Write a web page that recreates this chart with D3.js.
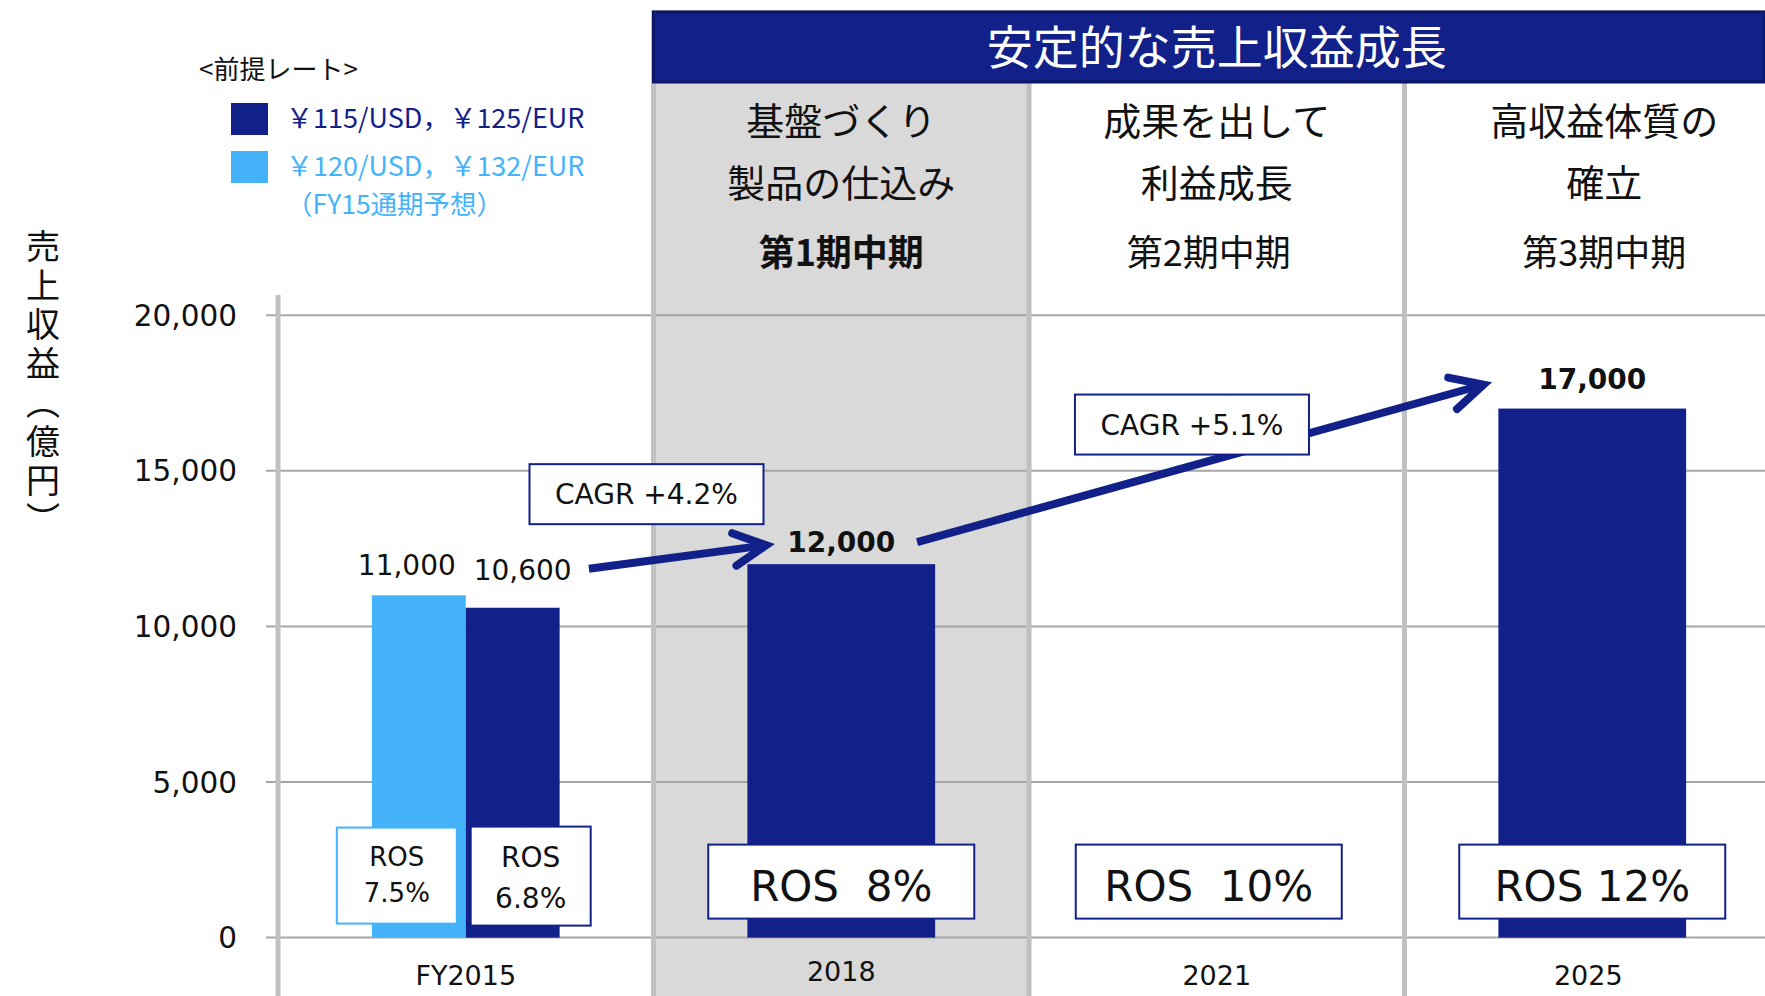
<!DOCTYPE html>
<html><head><meta charset="utf-8">
<script src="https://cdn.jsdelivr.net/npm/d3@7"></script>
<style>
html,body{margin:0;padding:0;background:#fff;}
svg{display:block;}
</style></head>
<body>
<svg id="chart" width="1765" height="996"></svg>
<script>
// ---- data ----
const categories = ["FY2015", "2018", "2021", "2025"];
const planRevenue = [10600, 12000, null, 17000];          // ¥115/USD, ¥125/EUR
const forecastRevenue = [11000, null, null, null];         // ¥120/USD, ¥132/EUR (FY15通期予想)
const planRos = ["6.8%", "8%", "10%", "12%"];
const forecastRos = ["7.5%", null, null, null];
const cagrLabels = ["CAGR +4.2%", "CAGR +5.1%"];
const yTicks = [0, 5000, 10000, 15000, 20000];
const phaseTitles = [["基盤づくり", "製品の仕込み"], ["成果を出して", "利益成長"], ["高収益体質の", "確立"]];
const phaseNames = ["第1期中期", "第2期中期", "第3期中期"];
const bannerTitle = "安定的な売上収益成長";
const legendTitle = "<前提レート>";
const legendLabels = ["￥115/USD，￥125/EUR", "￥120/USD，￥132/EUR"];
const legendNote = "（FY15通期予想）";
const yAxisTitle = "売上収益（億円）";

// ---- styles ----
const NAVY = "#12218a", LIGHT = "#45b3f9", GRID = "#a6a6a6", SEP = "#c0c0c0", SHADE = "#d9d9d9";
const LATIN = "'DejaVu Sans', 'Noto Sans CJK JP', sans-serif";
const CJK = "'Noto Sans CJK JP', sans-serif";

const svg = d3.select("#chart");
const x = d3.scaleBand().domain(categories).range([278, 1780]).padding(0);
const y = d3.scaleLinear().domain([0, 20000]).range([937.6, 315.2]);
const step = x.step();
const cx = c => x(c) + step / 2;

// shaded 2018 column
svg.append("rect").attr("x", x("2018")).attr("y", 82).attr("width", step).attr("height", 996 - 82).attr("fill", SHADE);

// gridlines + ticks
svg.append("g").selectAll("line").data(yTicks).join("line")
  .attr("x1", 266).attr("x2", 1765).attr("y1", d => y(d)).attr("y2", d => y(d))
  .attr("stroke", GRID).attr("stroke-width", 2);
svg.append("g").selectAll("text").data(yTicks).join("text")
  .attr("x", 237).attr("y", d => y(d)).attr("dy", "0.36em").attr("text-anchor", "end")
  .attr("font-family", LATIN).attr("font-size", 29.5).attr("fill", "#111")
  .text(d => d3.format(",")(d));

// separators
svg.append("g").selectAll("line").data(categories.slice(1)).join("line")
  .attr("x1", d => x(d)).attr("x2", d => x(d)).attr("y1", (d, i) => i === 0 ? 10 : 82).attr("y2", 996)
  .attr("stroke", SEP).attr("stroke-width", 5);
// y axis line
svg.append("line").attr("x1", 278).attr("x2", 278).attr("y1", 295).attr("y2", 996).attr("stroke", SEP).attr("stroke-width", 5);

// banner
svg.append("rect").attr("x", x("2018") - 2).attr("y", 10).attr("width", 1765 - x("2018") + 4).attr("height", 73)
  .attr("fill", "#c8c8c8");
svg.append("rect").attr("x", x("2018")).attr("y", 12).attr("width", 1765 - x("2018")).attr("height", 70)
  .attr("fill", NAVY).attr("stroke", "#0b1768").attr("stroke-width", 3);
svg.append("text").attr("x", cx("2021")).attr("y", 47).attr("dy", "0.36em").attr("text-anchor", "middle")
  .attr("font-family", CJK).attr("font-size", 46).attr("fill", "#fff").text(bannerTitle);

// phase headers
const phaseCats = categories.slice(1);
phaseCats.forEach((c, i) => {
  const g = svg.append("g").attr("font-family", CJK).attr("fill", "#111").attr("text-anchor", "middle");
  const hx = cx(c) + (i === 2 ? 12 : 0);
  phaseTitles[i].forEach((t, j) => {
    g.append("text").attr("x", hx).attr("y", 121 + j * 62).attr("dy", "0.36em").attr("font-size", 38).text(t);
  });
  g.append("text").attr("x", hx - (i === 1 ? 8 : 0)).attr("y", 253).attr("dy", "0.36em").attr("font-size", 36)
    .attr("font-weight", i === 0 ? 700 : 400).text(phaseNames[i]);
});

// bars
const bw = step * 0.5;
const barsG = svg.append("g");
categories.forEach((c, i) => {
  const f = forecastRevenue[i], p = planRevenue[i];
  if (f != null && p != null) {
    const sub = d3.scaleBand().domain(["forecast", "plan"]).range([x(c) + step / 4, x(c) + step / 4 + bw]);
    barsG.append("rect").attr("x", sub("forecast")).attr("y", y(f)).attr("width", sub.bandwidth()).attr("height", y(0) - y(f)).attr("fill", LIGHT);
    barsG.append("rect").attr("x", sub("plan")).attr("y", y(p)).attr("width", sub.bandwidth()).attr("height", y(0) - y(p)).attr("fill", NAVY);
    svg.append("text").attr("x", sub("forecast") + sub.bandwidth() / 2 - 12).attr("y", y(f) - 20)
      .attr("text-anchor", "middle").attr("font-family", LATIN).attr("font-size", 28).attr("fill", "#111").text(d3.format(",")(f));
    svg.append("text").attr("x", sub("plan") + sub.bandwidth() / 2 + 10).attr("y", y(p) - 28)
      .attr("text-anchor", "middle").attr("font-family", LATIN).attr("font-size", 28).attr("fill", "#111").text(d3.format(",")(p));
    // small ROS boxes
    [["forecast", forecastRos[i], LIGHT, 26, -22], ["plan", planRos[i], NAVY, 28, 18]].forEach(([k, r, col, fs, off]) => {
      const bxc = sub(k) + sub.bandwidth() / 2 + off;
      svg.append("rect").attr("x", bxc - 60).attr("y", y(0) - 111 + (k === "plan" ? 0 : 1)).attr("width", 120).attr("height", k === "plan" ? 99 : 96)
        .attr("fill", "#fff").attr("stroke", col).attr("stroke-width", 2);
      svg.append("text").attr("x", bxc).attr("y", y(0) - 81).attr("dy", "0.36em").attr("text-anchor", "middle")
        .attr("font-family", LATIN).attr("font-size", fs).attr("fill", "#111").text("ROS");
      svg.append("text").attr("x", bxc).attr("y", y(0) - (k === "plan" ? 40 : 45)).attr("dy", "0.36em").attr("text-anchor", "middle")
        .attr("font-family", LATIN).attr("font-size", fs).attr("fill", "#111").text(r);
    });
  } else if (p != null) {
    barsG.append("rect").attr("x", x(c) + step / 4).attr("y", y(p)).attr("width", bw).attr("height", y(0) - y(p)).attr("fill", NAVY);
    svg.append("text").attr("x", cx(c)).attr("y", y(p) - (c === "2018" ? 12 : 20))
      .attr("text-anchor", "middle").attr("font-family", LATIN).attr("font-size", 28).attr("font-weight", 700).attr("fill", "#111")
      .text(d3.format(",")(p));
  }
  if (!(f != null && p != null)) {
    const bxc = cx(c) + (c === "2021" ? -8 : 0);
    svg.append("rect").attr("x", bxc - 133).attr("y", y(0) - 93).attr("width", 266).attr("height", 74)
      .attr("fill", "#fff").attr("stroke", NAVY).attr("stroke-width", 2);
    svg.append("text").attr("x", bxc).attr("y", y(0) - 52).attr("dy", "0.36em").attr("text-anchor", "middle")
      .attr("font-family", LATIN).attr("font-size", 42).attr("fill", "#111").style("white-space", "pre")
      .text(c === "2025" ? "ROS " + planRos[i] : "ROS  " + planRos[i]);
  }
  // category labels
  svg.append("text").attr("x", cx(c) - (c === "2025" ? 4 : 0)).attr("y", c === "2018" ? 981 : 985).attr("text-anchor", "middle")
    .attr("font-family", LATIN).attr("font-size", 27).attr("fill", "#111").text(c);
});

// arrows
function arrow(x1, y1, x2, y2) {
  const a = Math.atan2(y2 - y1, x2 - x1), L = 36, ang = 27 * Math.PI / 180;
  const tx = x2 - Math.cos(a) * 8, ty = y2 - Math.sin(a) * 8;
  const g = svg.append("g").attr("stroke", NAVY).attr("stroke-width", 8).attr("fill", "none");
  g.append("line").attr("x1", x1).attr("y1", y1).attr("x2", tx - Math.cos(a) * 3).attr("y2", ty - Math.sin(a) * 3);
  g.append("path").attr("stroke-linejoin", "miter").attr("stroke-linecap", "round")
    .attr("d", d3.line()([[tx - L * Math.cos(a - ang), ty - L * Math.sin(a - ang)], [tx, ty], [tx - L * Math.cos(a + ang), ty - L * Math.sin(a + ang)]]));
}
arrow(x("FY2015") + 0.828 * step, y(planRevenue[0]) - 39, x("2018") + 0.321 * step, y(planRevenue[1]) - 20);
arrow(x("2018") + 0.702 * step, y(planRevenue[1]) - 22, x("2025") + 0.231 * step, y(planRevenue[3]) - 26);

// CAGR boxes
const cagrPos = [[x("2018") - 7, y(planRevenue[1]) - 70], [x("2021") + 0.434 * step, y(planRevenue[3]) + 16]];
cagrLabels.forEach((t, i) => {
  const [bx, by] = cagrPos[i];
  svg.append("rect").attr("x", bx - 117).attr("y", by - 30).attr("width", 234).attr("height", 60)
    .attr("fill", "#fff").attr("stroke", NAVY).attr("stroke-width", 2);
  svg.append("text").attr("x", bx).attr("y", by).attr("dy", "0.36em").attr("text-anchor", "middle")
    .attr("font-family", LATIN).attr("font-size", 28).attr("fill", "#111").text(t);
});

// legend
svg.append("text").attr("x", 199).attr("y", 70).attr("dy", "0.36em").attr("font-family", CJK).attr("font-size", 26).attr("fill", "#111").text(legendTitle);
[NAVY, LIGHT].forEach((col, i) => {
  svg.append("rect").attr("x", 231).attr("y", 103 + i * 48).attr("width", 37).attr("height", 32).attr("fill", col);
  svg.append("text").attr("x", 286).attr("y", 118 + i * 48).attr("dy", "0.36em").attr("font-family", CJK).attr("font-size", 27)
    .attr("fill", col).text(legendLabels[i]);
});
svg.append("text").attr("x", 286).attr("y", 204).attr("dy", "0.36em").attr("font-family", CJK).attr("font-size", 26.5)
  .attr("fill", LIGHT).text(legendNote);

// y axis title (vertical)
svg.append("text").attr("x", 43).attr("y", 229).attr("font-family", CJK).attr("font-size", 34).attr("fill", "#111")
  .style("writing-mode", "vertical-rl").style("letter-spacing", "5px").text(yAxisTitle);
</script>
</body></html>
